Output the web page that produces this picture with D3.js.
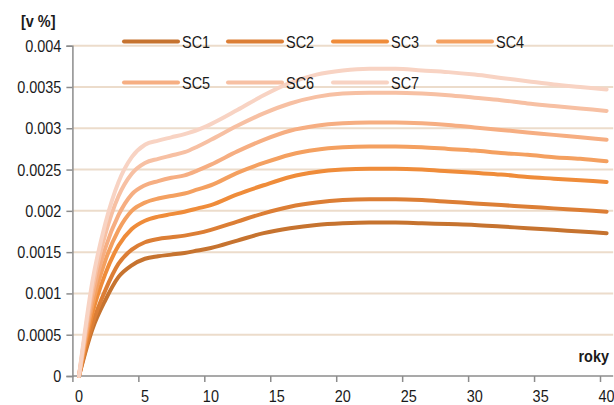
<!DOCTYPE html>
<html><head><meta charset="utf-8">
<script src="https://cdn.jsdelivr.net/npm/d3@7"></script>
<style>
html,body{margin:0;padding:0;background:#fff;}
svg{display:block;font-family:"Liberation Sans",Arial,sans-serif;}
</style></head>
<body><div id="chart"></div>
<script>
const years = [0,1,2,3,4,5,6,7,8,9,10,12,14,16,18,20,22,24,26,28,30,32,34,36,38,40];
const seriesNames = ["SC1","SC2","SC3","SC4","SC5","SC6","SC7"];
const sc1 = [0,0.00056,0.00092,0.00120,0.00134,0.00142,0.00145,0.00147,0.00149,0.00152,0.00155,0.00164,0.00173,0.00179,0.00183,0.00185,0.00186,0.00186,0.00185,0.00184,0.00183,0.00181,0.00179,0.00177,0.00175,0.00173];
const sc2 = [0,0.00062,0.00104,0.00136,0.00153,0.00162,0.00166,0.00168,0.00170,0.00173,0.00177,0.00187,0.00197,0.00205,0.00210,0.00213,0.00214,0.00214,0.00213,0.00211,0.00209,0.00207,0.00205,0.00203,0.00201,0.00199];
const sc3 = [0,0.00075,0.00124,0.00158,0.00178,0.00188,0.00193,0.00196,0.00199,0.00203,0.00207,0.00220,0.00231,0.00241,0.00247,0.00250,0.00251,0.00251,0.00250,0.00248,0.00246,0.00244,0.00241,0.00239,0.00237,0.00235];
const sc4 = [0,0.00085,0.00140,0.00177,0.00200,0.00210,0.00215,0.00218,0.00221,0.00226,0.00231,0.00246,0.00258,0.00268,0.00274,0.00277,0.00278,0.00278,0.00277,0.00275,0.00273,0.00270,0.00268,0.00265,0.00263,0.00260];
const sc5 = [0,0.00095,0.00155,0.00195,0.00220,0.00231,0.00236,0.00240,0.00243,0.00249,0.00256,0.00272,0.00286,0.00297,0.00303,0.00306,0.00307,0.00307,0.00306,0.00304,0.00301,0.00298,0.00295,0.00292,0.00289,0.00286];
const sc6 = [0,0.00105,0.00172,0.00218,0.00245,0.00258,0.00263,0.00267,0.00271,0.00278,0.00286,0.00303,0.00318,0.00330,0.00338,0.00342,0.00343,0.00343,0.00342,0.00340,0.00337,0.00334,0.00330,0.00327,0.00324,0.00321];
const sc7 = [0,0.00113,0.00185,0.00235,0.00265,0.00280,0.00285,0.00289,0.00293,0.00298,0.00305,0.00322,0.00340,0.00355,0.00365,0.00370,0.00372,0.00372,0.00370,0.00368,0.00365,0.00361,0.00357,0.00353,0.00350,0.00347];
const seriesValues = [sc1,sc2,sc3,sc4,sc5,sc6,sc7];
const colors = ["#c6732f","#dc7e35","#ef8c3a","#f4a060","#f6ae82","#f7c0a3","#f8d3c3"];
const yTicks = [0,0.0005,0.001,0.0015,0.002,0.0025,0.003,0.0035,0.004];
const yTickLabels = ["0","0.0005","0.001","0.0015","0.002","0.0025","0.003","0.0035","0.004"];
const xTickLabels = [0,5,10,15,20,25,30,35,40];

const FS = 17, SX = 0.85, TXT = "#1a1a1a";
const W = 614, H = 405;
const svg = d3.select("#chart").append("svg").attr("width",W).attr("height",H);

// condensed text helper (real text, horizontally scaled)
function label(g, px, py, str, anchor, bold) {
  return g.append("text")
    .attr("transform",`translate(${px},${py}) scale(${SX},1)`)
    .attr("text-anchor",anchor).attr("font-size",FS)
    .attr("font-weight",bold ? "bold" : "normal")
    .attr("fill",TXT).text(str);
}

const x = d3.scaleLinear().domain([0,40]).range([79,606.6]);
const y = d3.scaleLinear().domain([0,0.004]).range([376,45.7]);
const axisLeftX = x(-0.5), axisRightX = x(40.5);

// gridlines
svg.append("g").selectAll("line").data(yTicks.slice(1)).join("line")
  .attr("x1",axisLeftX).attr("x2",axisRightX)
  .attr("y1",d=>y(d)).attr("y2",d=>y(d))
  .attr("stroke","#ecdccb").attr("stroke-width",2);

// y axis
const yAxis = d3.axisLeft(y).tickValues(yTicks).tickSize(6).tickFormat("");
const gy = svg.append("g").attr("transform",`translate(${axisLeftX},0)`).call(yAxis);
gy.select(".domain").attr("stroke","#8c8c8c").attr("stroke-width",1.5);
gy.selectAll(".tick line").attr("stroke","#8c8c8c").attr("stroke-width",1.5);
const gyl = svg.append("g");
yTicks.forEach((v,i)=>label(gyl, axisLeftX-11, y(v)+6, yTickLabels[i], "end", false));

// x axis (category-style: ticks between categories)
const tickPos = xTickLabels.map(v=>v-0.5);
const xAxisTicks = d3.axisBottom(x).tickValues(tickPos).tickSize(6).tickFormat("");
const gx = svg.append("g").attr("transform","translate(0,376)").call(xAxisTicks);
gx.select(".domain").remove();
gx.selectAll(".tick line").attr("stroke","#8c8c8c").attr("stroke-width",1.5);
svg.append("line").attr("x1",axisLeftX).attr("x2",axisRightX).attr("y1",376).attr("y2",376)
  .attr("stroke","#8c8c8c").attr("stroke-width",1.5);
const gxl = svg.append("g");
xTickLabels.forEach(v=>label(gxl, x(v), 402, String(v), "middle", false));

// lines
const line = d3.line().x((d,i)=>x(years[i])).y(d=>y(d)).curve(d3.curveMonotoneX);
svg.append("g").selectAll("path").data(seriesValues).join("path")
  .attr("d",d=>line(d)).attr("fill","none")
  .attr("stroke",(d,i)=>colors[i]).attr("stroke-width",4)
  .attr("stroke-linecap","round").attr("stroke-linejoin","round");

// legend
const legPos = [[124,41.5],[228,41.5],[333,41.5],[438,41.5],[124,82.5],[228,82.5],[333,82.5]];
const leg = svg.append("g");
seriesNames.forEach((nm,i)=>{
  const g = leg.append("g").attr("transform",`translate(${legPos[i][0]},${legPos[i][1]})`);
  g.append("line").attr("x1",0).attr("x2",54).attr("y1",0).attr("y2",0)
    .attr("stroke",colors[i]).attr("stroke-width",4).attr("stroke-linecap","round");
  label(g, 58, 6, nm, "start", false);
});

// axis titles
label(svg, 21, 27, "[v %]", "start", true);
label(svg, 609, 362, "roky", "end", true);
</script></body></html>
